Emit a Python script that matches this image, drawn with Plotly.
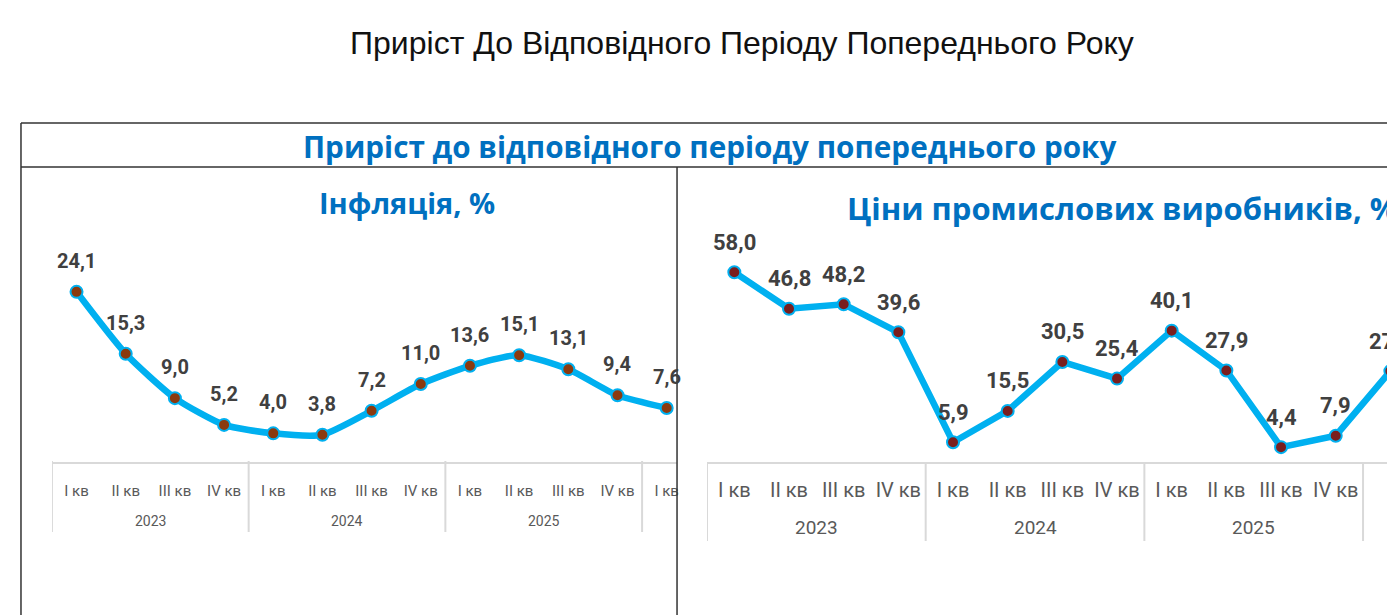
import plotly.graph_objects as go

# ---------------- data ----------------
quarters = ["I кв", "II кв", "III кв", "IV кв",
            "I кв", "II кв", "III кв", "IV кв",
            "I кв", "II кв", "III кв", "IV кв",
            "I кв"]
years = ["2023"] * 4 + ["2024"] * 4 + ["2025"] * 4 + ["2026"]
inflation = [24.1, 15.3, 9.0, 5.2, 4.0, 3.8, 7.2, 11.0, 13.6, 15.1, 13.1, 9.4, 7.6]
ppi = [58.0, 46.8, 48.2, 39.6, 5.9, 15.5, 30.5, 25.4, 40.1, 27.9, 4.4, 7.9, 27.7]

page_title = "Приріст До Відповідного Періоду Попереднього Року"
header_title = "Приріст до відповідного періоду попереднього року"
left_title = "Інфляція, %"
right_title = "Ціни промислових виробників, %"

# ---------------- layout helpers ----------------
OFF = 8  # page body margin
W, H = 1395 - OFF, 615


def px(x):
    return (x - OFF) / W


def py(y):
    return 1 - (y - OFF) / H


def fmt(v):
    return f"{v:.1f}".replace(".", ",")


idx = list(range(len(quarters)))

LINE_BLUE = "#00B0F0"
LABEL_COLOR = "#404040"
AXIS_GRAY = "#D9D9D9"
TICK_COLOR = "#595959"
TITLE_BLUE = "#0070C0"

fig = go.Figure()

# left panel: inflation (smoothed)
fig.add_trace(go.Scatter(
    x=idx, y=inflation, mode="lines+markers",
    line=dict(color=LINE_BLUE, width=6.5, shape="spline", smoothing=0.6),
    marker=dict(size=12, color="#8B3A0F", line=dict(color=LINE_BLUE, width=2)),
    xaxis="x", yaxis="y", showlegend=False, cliponaxis=True,
    hovertemplate="%{y:.1f}<extra></extra>",
))

# right panel: producer prices (straight)
fig.add_trace(go.Scatter(
    x=idx, y=ppi, mode="lines+markers",
    line=dict(color=LINE_BLUE, width=6.5),
    marker=dict(size=12, color="#7A1E1E", line=dict(color=LINE_BLUE, width=2)),
    xaxis="x2", yaxis="y2", showlegend=False, cliponaxis=False,
    hovertemplate="%{y:.1f}<extra></extra>",
))

annotations = []
# value labels
for i, v in zip(idx, inflation):
    annotations.append(dict(x=i, y=v, xref="x", yref="y", text=fmt(v), showarrow=False,
                            yshift=31, font=dict(family="Roboto", size=20, color=LABEL_COLOR,
                                                 weight="bold")))
for i, v in zip(idx, ppi):
    annotations.append(dict(x=i, y=v, xref="x2", yref="y2", text=fmt(v), showarrow=False,
                            yshift=30, font=dict(family="Roboto", size=22, color=LABEL_COLOR,
                                                 weight="bold")))

# group (year) labels and dividers
L_RANGE = [-0.5, -0.5 + (678 - 52) / 49.25]
R_RANGE = [-0.5, -0.5 + (1395 - 708) / 54.75]

groups = []
for i, yv in enumerate(years):
    if not groups or groups[-1][0] != yv:
        groups.append([yv, i])

shapes = []
for yv, start in groups:
    center = start + 1.5
    if center <= L_RANGE[1]:
        annotations.append(dict(x=center, y=py(521), xref="x", yref="paper", text=yv,
                                showarrow=False, yanchor="middle",
                                font=dict(family="Roboto", size=14, color=TICK_COLOR)))
    if center <= R_RANGE[1]:
        annotations.append(dict(x=center, y=py(527), xref="x2", yref="paper", text=yv,
                                showarrow=False, yanchor="middle",
                                font=dict(family="Roboto", size=19, color=TICK_COLOR)))
    shapes.append(dict(type="line", xref="x", yref="paper", x0=start - 0.5, x1=start - 0.5,
                       y0=py(461), y1=py(532), line=dict(color=AXIS_GRAY, width=2)))
    shapes.append(dict(type="line", xref="x2", yref="paper", x0=start - 0.5, x1=start - 0.5,
                       y0=py(462), y1=py(541), line=dict(color=AXIS_GRAY, width=2)))

# frame of the infographic
FRAME = "#333333"
shapes += [
    dict(type="line", xref="paper", yref="paper", x0=px(21), x1=1, y0=py(123), y1=py(123),
         line=dict(color=FRAME, width=1.5)),
    dict(type="line", xref="paper", yref="paper", x0=px(21), x1=1, y0=py(167), y1=py(167),
         line=dict(color=FRAME, width=1.5)),
    dict(type="line", xref="paper", yref="paper", x0=px(21), x1=px(21), y0=py(123), y1=0,
         line=dict(color=FRAME, width=1.5)),
    dict(type="line", xref="paper", yref="paper", x0=px(678), x1=px(678), y0=py(167), y1=0,
         line=dict(color=FRAME, width=1.5)),
]

# titles
annotations += [
    dict(x=px(711), y=py(146), xref="paper", yref="paper", text=header_title, showarrow=False,
         xanchor="center", yanchor="middle",
         font=dict(family="Open Sans", size=29.7, color=TITLE_BLUE, weight="bold")),
    dict(x=px(408), y=py(202), xref="paper", yref="paper", text=left_title, showarrow=False,
         xanchor="center", yanchor="middle",
         font=dict(family="Open Sans", size=29, color=TITLE_BLUE, weight="bold")),
    dict(x=px(846), y=py(208), xref="paper", yref="paper", text=right_title, showarrow=False,
         xanchor="left", yanchor="middle",
         font=dict(family="Open Sans", size=31, color=TITLE_BLUE, weight="bold")),
]

fig.update_layout(
    width=W, height=H, autosize=False,
    margin=dict(l=0, r=0, t=0, b=0, pad=0),
    paper_bgcolor="white", plot_bgcolor="rgba(0,0,0,0)",
    title=dict(text=page_title, x=px(743), xanchor="center", xref="paper",
               y=py(43), yanchor="middle", yref="container",
               font=dict(family="Liberation Sans", size=32, color="#111111")),
    xaxis=dict(domain=[px(52), px(678)], range=L_RANGE, tickmode="array",
               tickvals=idx, ticktext=quarters, showgrid=False, zeroline=False,
               showline=True, linecolor=AXIS_GRAY, linewidth=2, ticks="",
               ticklabelstandoff=14, anchor="y",
               tickfont=dict(family="Roboto", size=15, color=TICK_COLOR), fixedrange=True),
    yaxis=dict(domain=[py(461.5), py(235)], range=[0, (461.5 - 235) / 7.04],
               visible=False, fixedrange=True),
    xaxis2=dict(domain=[px(708), 1], range=R_RANGE, tickmode="array",
                tickvals=idx, ticktext=quarters, showgrid=False, zeroline=False,
                showline=True, linecolor=AXIS_GRAY, linewidth=2, ticks="",
                ticklabelstandoff=9, anchor="y2",
                tickfont=dict(family="Roboto", size=20, color=TICK_COLOR), fixedrange=True),
    yaxis2=dict(domain=[py(461.5), py(225)], range=[0, (461.5 - 225) / 3.263],
                visible=False, fixedrange=True),
    shapes=shapes,
    annotations=annotations,
)

fig.write_html("out.html")
